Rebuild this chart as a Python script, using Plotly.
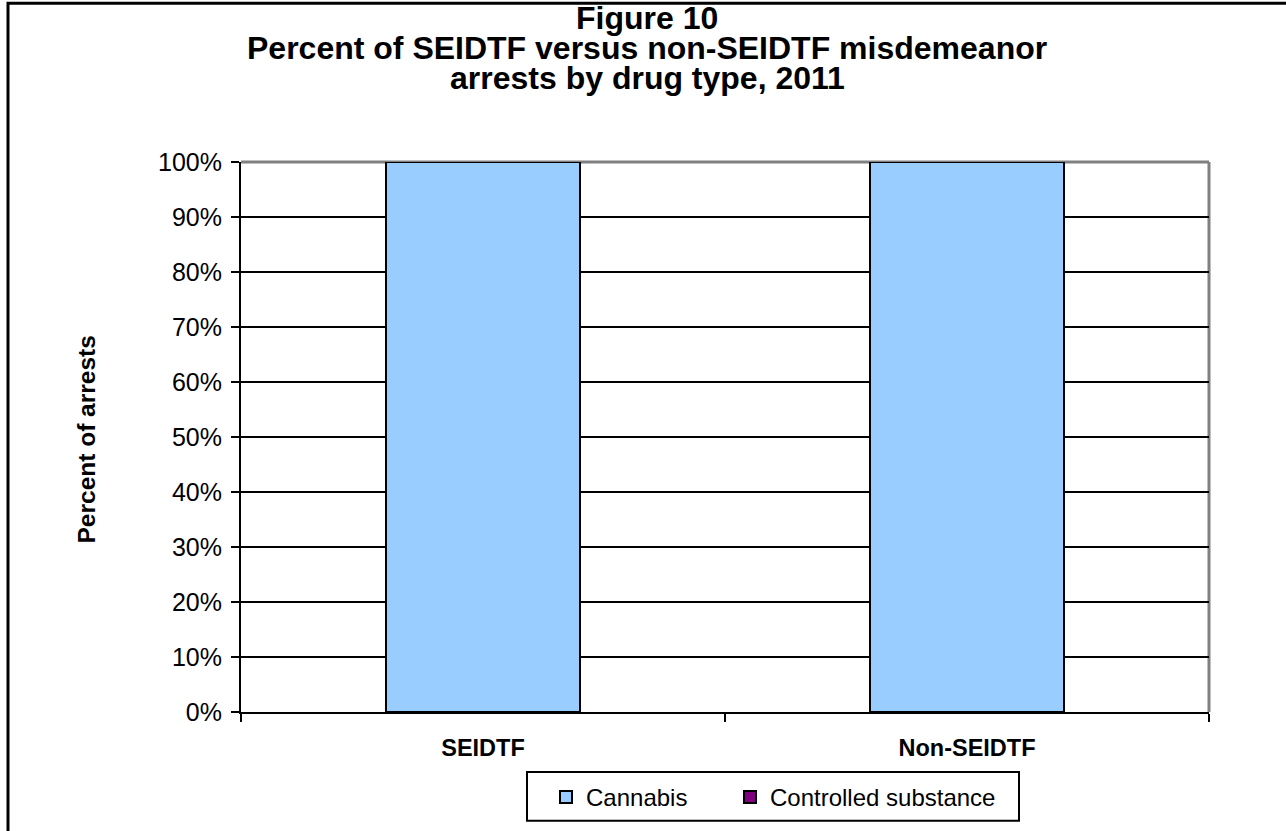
import plotly.graph_objects as go

# Data
categories = ["SEIDTF", "Non-SEIDTF"]
cannabis = [1.0, 1.0]
controlled_substance = [0.0, 0.0]
y_ticks = [0, 0.1, 0.2, 0.3, 0.4, 0.5, 0.6, 0.7, 0.8, 0.9, 1.0]
title_lines = [
    "Figure 10",
    "Percent of SEIDTF versus non-SEIDTF misdemeanor",
    "arrests by drug type, 2011",
]

W, H = 1286, 831
L, R, T, B = 241, 1209, 162, 713
pw, ph = R - L, B - T

def px_x(px):
    return (px - L) / pw

def px_y(py):
    return (B - py) / ph

FONT = "Liberation Sans, Arial, sans-serif"

fig = go.Figure()
fig.add_trace(go.Bar(
    name="Cannabis", x=categories, y=cannabis, legend="legend",
    marker=dict(color="#99CCFF", line=dict(color="black", width=2)),
))
fig.add_trace(go.Bar(
    name="Controlled substance", x=categories, y=controlled_substance, legend="legend2",
    marker=dict(color="#800080", line=dict(color="black", width=2)),
))

legend_common = dict(
    orientation="h", xanchor="left", y=px_y(775), yanchor="top",
    borderwidth=0, bgcolor="rgba(0,0,0,0)", font=dict(size=24, family=FONT),
)

fig.update_layout(
    width=W, height=H,
    margin=dict(l=L, r=W - R, t=T, b=H - B),
    paper_bgcolor="white", plot_bgcolor="white",
    barmode="stack", bargap=0.6,
    font=dict(family=FONT, color="black", size=24),
    xaxis=dict(
        showgrid=False, showline=True, linecolor="black", linewidth=2,
        ticks="outside", tickson="boundaries", ticklen=8, tickwidth=2, tickcolor="black",
        tickfont=dict(size=23.5, family=FONT),
        tickprefix="<b>", ticksuffix="</b>", ticklabelstandoff=14,
    ),
    yaxis=dict(
        range=[0, 1], tickvals=y_ticks, tickformat=".0%",
        showgrid=True, gridcolor="black", gridwidth=2,
        showline=True, linecolor="black", linewidth=2,
        ticks="outside", ticklen=8, tickwidth=2, tickcolor="black",
        tickfont=dict(size=25, family=FONT), zeroline=False,
        ticklabelstandoff=4,
    ),
    legend=dict(x=px_x(546), **legend_common),
    legend2=dict(x=px_x(730), **legend_common),
    showlegend=True,
)

# Gray frame on the top and right of the plot area
fig.add_shape(type="line", xref="paper", yref="paper", x0=0, x1=1, y0=1, y1=1,
              line=dict(color="#808080", width=3), layer="between")
fig.add_shape(type="line", xref="paper", yref="paper", x0=1, x1=1, y0=0, y1=1,
              line=dict(color="#808080", width=3), layer="between")

# Outer chart frame
fig.add_shape(type="rect", xref="paper", yref="paper",
              x0=px_x(8), x1=px_x(W + 20), y0=px_y(H + 20), y1=px_y(3),
              line=dict(color="black", width=3), fillcolor="rgba(0,0,0,0)", layer="below")

# Legend frame
fig.add_shape(type="rect", xref="paper", yref="paper",
              x0=px_x(527), x1=px_x(1019), y0=px_y(822), y1=px_y(773),
              line=dict(color="black", width=2), fillcolor="rgba(0,0,0,0)", layer="below")

# Chart title, one line at a time
for text, cy in zip(title_lines, [18, 48, 78]):
    fig.add_annotation(
        text=f"<b>{text}</b>", xref="paper", yref="paper",
        x=px_x(647), y=px_y(cy), xanchor="center", yanchor="middle",
        showarrow=False, font=dict(size=32, family=FONT),
    )

# Y-axis title
fig.add_annotation(
    text="<b>Percent of arrests</b>", xref="paper", yref="paper",
    x=px_x(86), y=px_y(440), xanchor="center", yanchor="middle",
    textangle=-90, showarrow=False,
    font=dict(size=24.5, family=FONT),
)

fig.write_html("out.html")
